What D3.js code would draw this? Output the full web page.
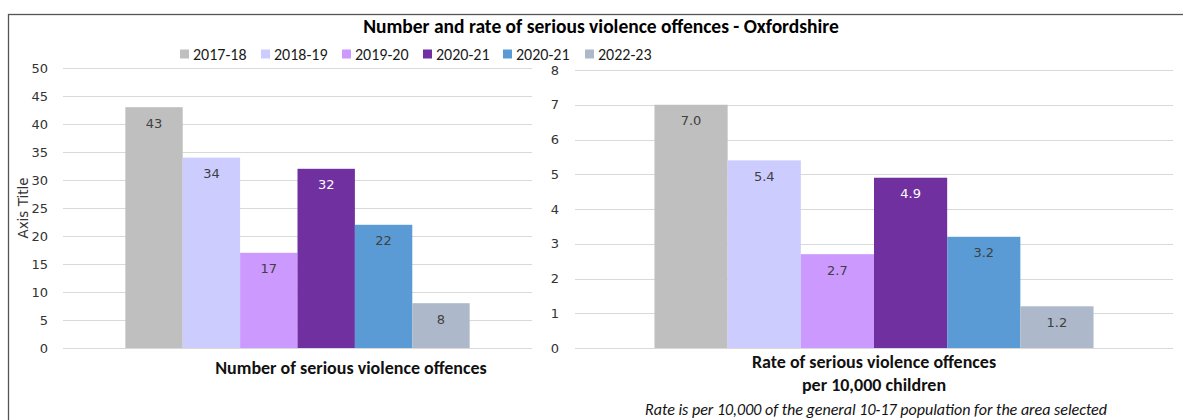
<!DOCTYPE html>
<html>
<head>
<meta charset="utf-8">
<script src="https://cdn.jsdelivr.net/npm/d3@7"></script>
<style>
  html, body { margin: 0; padding: 0; background: #fff; }
  svg { display: block; }
  .cal { font-family: Carlito, Lato, "Open Sans", sans-serif; }
  .tah { font-family: "DejaVu Sans", Verdana, sans-serif; }
</style>
</head>
<body>
<svg id="chart" width="1183" height="420"></svg>
<script>
// Series (one bar per season in each panel)
const seasons = ["2017-18", "2018-19", "2019-20", "2020-21", "2020-21", "2022-23"];
const seriesColors = ["#BFBFBF", "#CCCCFF", "#CC99FF", "#7030A0", "#5B9BD5", "#ADB9CA"];
const labelColors = ["#404040", "#404040", "#404040", "#FFFFFF", "#404040", "#404040"];

// Panel values
const offenceCounts = [43, 34, 17, 32, 22, 8];
const offenceRates = [7.0, 5.4, 2.7, 4.9, 3.2, 1.2];

// Axis ticks
const countTicks = [0, 5, 10, 15, 20, 25, 30, 35, 40, 45, 50];
const rateTicks = [0, 1, 2, 3, 4, 5, 6, 7, 8];

const svg = d3.select("#chart");

// Outer chart border
svg.append("rect")
  .attr("x", 8.5).attr("y", 14.5)
  .attr("width", 1200).attr("height", 440)
  .attr("fill", "none").attr("stroke", "#555").attr("stroke-width", 1.3);

// Title
svg.append("text").attr("class", "cal")
  .attr("x", 601).attr("y", 33)
  .attr("text-anchor", "middle")
  .attr("font-size", 19.5).attr("font-weight", "bold").attr("fill", "#000")
  .text("Number and rate of serious violence offences - Oxfordshire");

// Legend
const legendX = [180, 261, 342, 423, 503, 585];
const legend = svg.append("g");
seasons.forEach((s, i) => {
  const g = legend.append("g").attr("transform", `translate(${legendX[i]},54)`);
  g.append("rect").attr("x", 0).attr("y", -4.5).attr("width", 9).attr("height", 9)
    .attr("fill", seriesColors[i]);
  g.append("text").attr("class", "cal").attr("x", 13).attr("y", 5.5)
    .attr("font-size", 16).attr("fill", "#1a1a1a").text(s);
});

function panel(opts) {
  const { x0, x1, y0, y1, max, ticks, values, fmt, labelRight } = opts;
  const g = svg.append("g");
  const y = d3.scaleLinear().domain([0, max]).range([y0, y1]);
  const outer = d3.scaleBand().domain(["all"]).range([x0, x1])
    .paddingInner(0).paddingOuter(0.181);
  const inner = d3.scaleBand().domain(d3.range(values.length))
    .range([outer("all"), outer("all") + outer.bandwidth()]);

  // Gridlines
  g.append("g").selectAll("line").data(ticks).join("line")
    .attr("x1", x0).attr("x2", x1)
    .attr("y1", d => Math.round(y(d)) + 0.5).attr("y2", d => Math.round(y(d)) + 0.5)
    .attr("stroke", "#D9D9D9").attr("stroke-width", 1);

  // Tick labels via axis generator
  const axis = g.append("g")
    .attr("transform", `translate(${labelRight},0)`)
    .call(d3.axisLeft(y).tickValues(ticks).tickSize(0).tickPadding(0));
  axis.select(".domain").remove();
  axis.attr("font-family", null).attr("font-size", null);
  axis.selectAll("text").attr("class", "tah")
    .attr("font-size", 13).attr("fill", "#333");

  // Bars
  g.append("g").selectAll("rect").data(values).join("rect")
    .attr("x", (d, i) => inner(i))
    .attr("width", inner.bandwidth())
    .attr("y", d => y(d))
    .attr("height", d => y(0) - y(d))
    .attr("fill", (d, i) => seriesColors[i]);

  // Value labels (inside end)
  g.append("g").selectAll("text").data(values).join("text")
    .attr("class", "tah")
    .attr("x", (d, i) => inner(i) + inner.bandwidth() / 2)
    .attr("y", d => y(d) + 16)
    .attr("dy", "0.35em")
    .attr("text-anchor", "middle")
    .attr("font-size", 13)
    .attr("fill", (d, i) => labelColors[i])
    .text(fmt);
  return g;
}

panel({ x0: 63, x1: 532, y0: 348, y1: 68, max: 50, ticks: countTicks,
  values: offenceCounts, fmt: d => d3.format("d")(d), labelRight: 48 });
panel({ x0: 575, x1: 1173, y0: 348, y1: 70, max: 8, ticks: rateTicks,
  values: offenceRates, fmt: d => d3.format(".1f")(d), labelRight: 559 });

// Left axis title
svg.append("text").attr("class", "tah")
  .attr("transform", "translate(28,208) rotate(-90)")
  .attr("text-anchor", "middle").attr("font-size", 13.5).attr("fill", "#333")
  .text("Axis Title");

// Category titles
svg.append("text").attr("class", "cal")
  .attr("x", 351).attr("y", 374).attr("text-anchor", "middle")
  .attr("font-size", 18).attr("font-weight", "bold").attr("fill", "#111")
  .text("Number of serious violence offences");
const rt = svg.append("text").attr("class", "cal")
  .attr("text-anchor", "middle").attr("font-size", 18)
  .attr("font-weight", "bold").attr("fill", "#111");
rt.append("tspan").attr("x", 874).attr("y", 368).text("Rate of serious violence offences");
rt.append("tspan").attr("x", 874).attr("y", 391).text("per 10,000 children");

// Footnote
svg.append("text").attr("class", "cal")
  .attr("x", 876).attr("y", 415).attr("text-anchor", "middle")
  .attr("font-size", 16).attr("font-style", "italic").attr("fill", "#111")
  .text("Rate is per 10,000 of the general 10-17 population for the area selected");
</script>
</body>
</html>
